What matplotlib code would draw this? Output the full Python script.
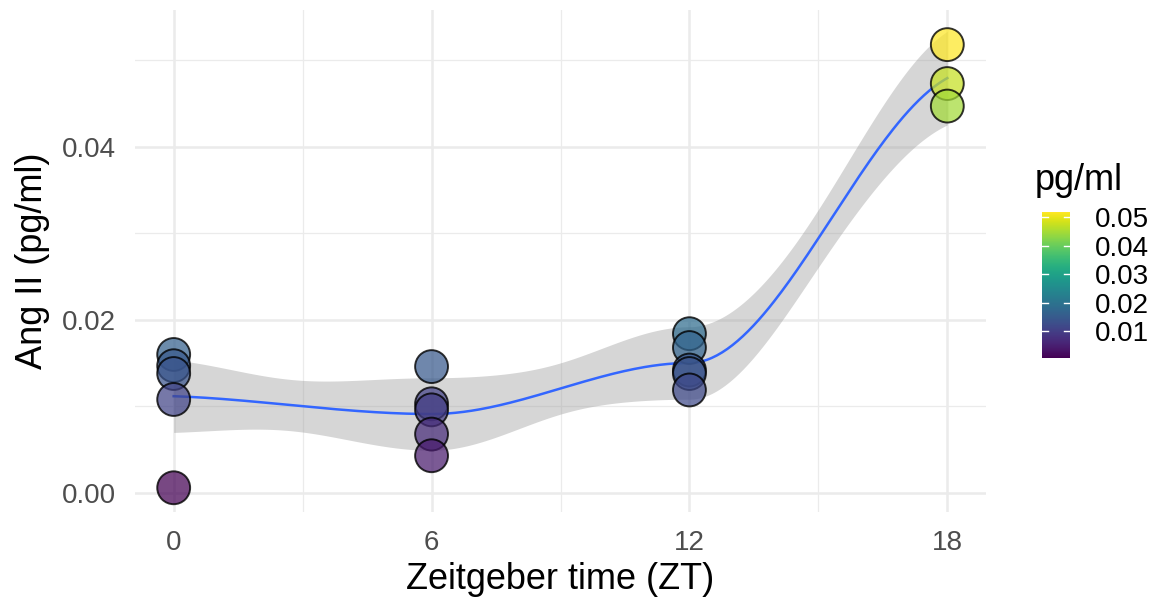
import numpy as np
import matplotlib
matplotlib.use("Agg")
import matplotlib.pyplot as plt
from matplotlib import cm, colors

# ---- data ----
zt0 = [0.0160, 0.0147, 0.0138, 0.0108, 0.0006]
zt6 = [0.0146, 0.0103, 0.0096, 0.0068, 0.0043]
zt12 = [0.0184, 0.0168, 0.0142, 0.0138, 0.0119]
zt18 = [0.0518, 0.0473, 0.0447]
times = [0, 6, 12, 18]
x_ticks = [0, 6, 12, 18]
y_ticks = [0.00, 0.02, 0.04]
cbar_ticks = [0.01, 0.02, 0.03, 0.04, 0.05]

x = np.concatenate([[t] * len(g) for t, g in zip(times, [zt0, zt6, zt12, zt18])]).astype(float)
y = np.concatenate([zt0, zt6, zt12, zt18]).astype(float)
n = len(x)

# ---- loess (span 0.75, degree 2), kd-tree vertices + cubic Hermite, as in R ----
span = 0.75
q = int(np.floor(n * span))


def local_rows(x0):
    d = np.abs(x - x0)
    h = np.sort(d)[q - 1]
    u = np.clip(d / h, 0, 1)
    w = (1 - u ** 3) ** 3
    X = np.column_stack([np.ones(n), x - x0, (x - x0) ** 2])
    sw = np.sqrt(w)
    Xw = X * sw[:, None]
    nrm = np.linalg.norm(Xw, axis=0)
    nrm[nrm == 0] = 1.0
    P = np.linalg.pinv(Xw / nrm, rcond=1e-8)
    B = (P / nrm[:, None]) * sw[None, :]
    return B[0], B[1]


mu = 0.005 * (x.max() - x.min())
verts = np.array([x.min() - mu] + sorted(set(x.tolist())) + [x.max() + mu])
vrows = [local_rows(v) for v in verts]


def L_at(xx):
    i = np.searchsorted(verts, xx, side="right") - 1
    i = min(max(i, 0), len(verts) - 2)
    a, b = verts[i], verts[i + 1]
    dlt = b - a
    t = (xx - a) / dlt
    h00 = 2 * t ** 3 - 3 * t ** 2 + 1
    h10 = t ** 3 - 2 * t ** 2 + t
    h01 = -2 * t ** 3 + 3 * t ** 2
    h11 = t ** 3 - t ** 2
    return (h00 * vrows[i][0] + h10 * dlt * vrows[i][1]
            + h01 * vrows[i + 1][0] + h11 * dlt * vrows[i + 1][1])


Lmat = np.array([L_at(xi) for xi in x])
res = y - Lmat @ y
IL = np.eye(n) - Lmat
A = IL.T @ IL
delta1 = np.trace(A)
delta2 = np.trace(A @ A)
sigma = np.sqrt(np.sum(res ** 2) / delta1)
df = delta1 ** 2 / delta2
z = 1.959964
tq = z + (z ** 3 + z) / (4 * df) + (5 * z ** 5 + 16 * z ** 3 + 3 * z) / (96 * df ** 2)

xs = np.linspace(0, 18, 300)
Ls = np.array([L_at(v) for v in xs])
fit = Ls @ y
se = sigma * np.sqrt(np.sum(Ls ** 2, axis=1))
lo, hi = fit - tq * se, fit + tq * se

# ---- figure ----
plt.rcParams['font.family'] = ['Liberation Sans', 'DejaVu Sans']
fig = plt.figure(figsize=(11.55, 6.05), dpi=100)
ax = fig.add_axes([135 / 1155, 1 - 512 / 605, (986 - 135) / 1155, (512 - 10) / 605])
ax.set_xlim(-0.9, 18.9)
ax.set_ylim(-0.0022, 0.0558)

for s in ax.spines.values():
    s.set_visible(False)
ax.set_xticks(x_ticks)
ax.set_yticks(y_ticks)
ax.set_xticks([3, 9, 15], minor=True)
ax.set_yticks([0.01, 0.03, 0.05], minor=True)
ax.set_xticklabels([str(v) for v in x_ticks])
ax.set_yticklabels([f"{v:.2f}" for v in y_ticks])
ax.tick_params(which="both", length=0)
ax.tick_params(axis="y", pad=14, labelsize=20, labelcolor="#4D4D4D")
ax.tick_params(axis="x", pad=13, labelsize=20, labelcolor="#4D4D4D")
ax.grid(which="major", color="#EBEBEB", lw=1.8)
ax.grid(which="minor", color="#EBEBEB", lw=0.9)
ax.set_axisbelow(True)

ax.fill_between(xs, lo, hi, color="#999999", alpha=0.4, lw=0, zorder=2)
ax.plot(xs, fit, color="#3366FF", lw=1.8, zorder=3)

vmin, vmax = y.min(), y.max()
norm = colors.Normalize(vmin=vmin, vmax=vmax)
cmap = plt.get_cmap("viridis")
fc = cmap(norm(y))
fc[:, 3] = 0.72
ax.scatter(x, y, s=560, c=fc, edgecolors=(0, 0, 0, 0.8), linewidths=1.4, zorder=4)

ax.set_xlabel("Zeitgeber time (ZT)", fontsize=26, labelpad=4)
ax.set_ylabel("Ang II (pg/ml)", fontsize=26, labelpad=8)

# colorbar
cax = fig.add_axes([1042 / 1155, 1 - 358 / 605, 28 / 1155, 146 / 605])
cb = fig.colorbar(cm.ScalarMappable(norm=norm, cmap=cmap), cax=cax, ticks=cbar_ticks)
cb.outline.set_visible(False)
cax.tick_params(length=0, labelsize=20, pad=18)
cax.set_yticklabels([f"{v:.2f}" for v in cbar_ticks])
for v in cbar_ticks:
    cax.plot([0, 0.2], [v, v], color="white", lw=1.0, transform=cax.get_yaxis_transform())
    cax.plot([0.8, 1.0], [v, v], color="white", lw=1.0, transform=cax.get_yaxis_transform())
fig.text(1035 / 1155, 1 - 180 / 605, "pg/ml", fontsize=26, ha="left", va="center")

fig.savefig("out.png", dpi=100)
